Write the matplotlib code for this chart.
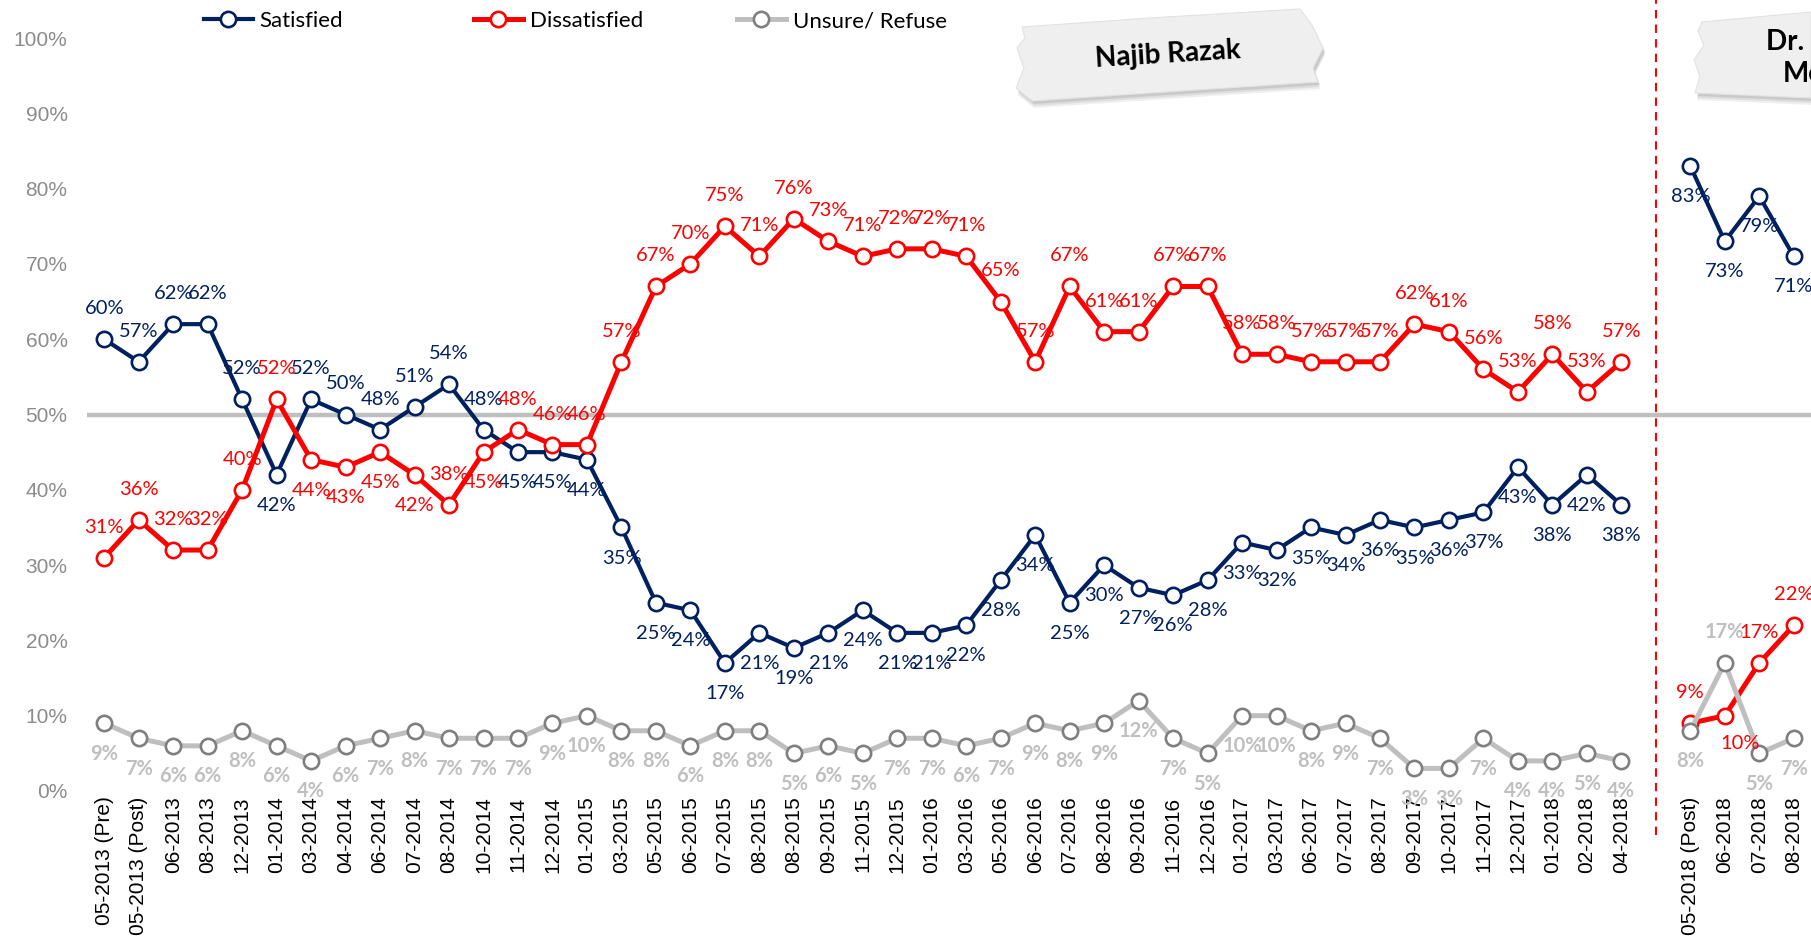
import numpy as np
import matplotlib.pyplot as plt
from matplotlib.patches import Polygon

# survey periods under Najib Razak, then after the May 2018 election
periods = ['05-2013 (Pre)', '05-2013 (Post)', '06-2013', '08-2013', '12-2013',
           '01-2014', '03-2014', '04-2014', '06-2014', '07-2014', '08-2014',
           '10-2014', '11-2014', '12-2014', '01-2015', '03-2015', '05-2015',
           '06-2015', '07-2015', '08-2015', '08-2015', '09-2015', '11-2015',
           '12-2015', '01-2016', '03-2016', '05-2016', '06-2016', '07-2016',
           '08-2016', '09-2016', '11-2016', '12-2016', '01-2017', '03-2017',
           '06-2017', '07-2017', '08-2017', '09-2017', '10-2017', '11-2017',
           '12-2017', '01-2018', '02-2018', '04-2018']
post_periods = ['05-2018 (Post)', '06-2018', '07-2018', '08-2018']

satisfied = [60, 57, 62, 62, 52, 42, 52, 50, 48, 51, 54, 48, 45, 45, 44, 35, 25,
             24, 17, 21, 19, 21, 24, 21, 21, 22, 28, 34, 25, 30, 27, 26, 28, 33,
             32, 35, 34, 36, 35, 36, 37, 43, 38, 42, 38]
dissatisfied = [31, 36, 32, 32, 40, 52, 44, 43, 45, 42, 38, 45, 48, 46, 46, 57,
                67, 70, 75, 71, 76, 73, 71, 72, 72, 71, 65, 57, 67, 61, 61, 67,
                67, 58, 58, 57, 57, 57, 62, 61, 56, 53, 58, 53, 57]
unsure = [9, 7, 6, 6, 8, 6, 4, 6, 7, 8, 7, 7, 7, 9, 10, 8, 8, 6, 8, 8, 5, 6, 5,
          7, 7, 6, 7, 9, 8, 9, 12, 7, 5, 10, 10, 8, 9, 7, 3, 3, 7, 4, 4, 5, 4]

satisfied_post = [83, 73, 79, 71]
dissatisfied_post = [9, 10, 17, 22]
unsure_post = [8, 17, 5, 7]

NAVY = '#002060'
RED = '#FF0000'
GREY = '#BFBFBF'

W, H = 1811, 944


def px(x, y):
    # pixel position (y from top) -> figure fraction
    return (x / W, 1 - y / H)


fig = plt.figure(figsize=(W / 100, H / 100), dpi=100)
ax = fig.add_axes([87 / W, 1 - 791 / H, (W - 87) / W, 753 / H])

x_najib = np.arange(len(periods))
x_post = np.arange(len(periods) + 1, len(periods) + 1 + len(post_periods))
x_split = len(periods)

series = [
    ('Satisfied', satisfied, satisfied_post, NAVY, NAVY, 3.0),
    ('Dissatisfied', dissatisfied, dissatisfied_post, RED, RED, 3.6),
    ('Unsure/ Refuse', unsure, unsure_post, GREY, '#7F7F7F', 3.6),
]

handles = []
for i, (name, vals, vals_post, col, edge, lw) in enumerate(series):
    style = dict(color=col, lw=lw, marker='o', ms=11, mfc='white', mec=edge,
                 mew=1.9, zorder=3 + i)
    h, = ax.plot(x_najib, np.array(vals) / 100, label=name, **style)
    ax.plot(x_post, np.array(vals_post) / 100, **style)
    handles.append(h)

# where Excel put each data label
sat_above = {0, 1, 2, 3, 4, 6, 7, 8, 9, 10, 11}
dis_below = {6, 7, 8, 9, 11}
lab_font = 'Lato'
OFF = 22


def label(x, v, dx, dy, col, bold=False):
    ax.annotate(f'{v}%', (x, v / 100), xytext=(dx, dy), textcoords='offset points',
                ha='center', va='center', color=col, fontsize=14.5,
                family=lab_font, fontweight='bold' if bold else 'normal', zorder=10)


for i, v in enumerate(satisfied):
    label(x_najib[i], v, 0, OFF if i in sat_above else -OFF, NAVY)
for i, v in enumerate(dissatisfied):
    label(x_najib[i], v, 0, -OFF if i in dis_below else OFF, RED)
for i, v in enumerate(unsure):
    label(x_najib[i], v, 0, -OFF, GREY, bold=True)

for i, v in enumerate(satisfied_post):
    label(x_post[i], v, 0, -OFF, NAVY)
for i, v in enumerate(dissatisfied_post):
    if i == 1:
        label(x_post[i], v, 11, -20, RED)
    else:
        label(x_post[i], v, 0, OFF, RED)
for i, v in enumerate(unsure_post):
    label(x_post[i], v, 0, OFF if i == 1 else -OFF, GREY, bold=True)

# 50% reference line and the change of government
ax.axhline(0.5, color=GREY, lw=3.2, zorder=1)
ax.axvline(x_split, ymin=-0.058, ymax=1.06, color=RED, lw=1.5,
           ls=(0, (4, 3)), clip_on=False, zorder=2)

ax.set_xlim(-0.5, x_post[-1] + 0.5)
ax.set_ylim(0, 1.0)
ax.set_yticks(np.arange(0, 1.01, 0.1))
ax.set_yticklabels([f'{int(round(t * 100))}%' for t in np.arange(0, 1.01, 0.1)],
                   family='Liberation Sans', fontsize=15, color='#8C8C8C')
ax.set_xticks(np.r_[x_najib, x_post])
ax.set_xticklabels(periods + post_periods, rotation=90, family='Liberation Sans',
                   fontsize=15, color='black')
ax.tick_params(axis='y', length=0, pad=14)
ax.tick_params(axis='x', length=0, pad=4)
for s in ax.spines.values():
    s.set_visible(False)

# one legend entry per slot, like the Excel legend spacing
for h, xpos in zip(handles, (204, 474, 737)):
    leg = fig.legend(handles=[h], loc='center left', bbox_to_anchor=px(xpos, 21),
                     frameon=False, borderpad=0, borderaxespad=0,
                     handlelength=2.2, handletextpad=0.3,
                     prop={'family': lab_font, 'size': 16})

# paper banners with the prime ministers' names
najib_shape = [(1022, 27), (1150, 18), (1300, 9), (1312, 25), (1323, 48),
               (1313, 68), (1318, 82), (1150, 93), (1032, 101), (1016, 88),
               (1024, 68), (1017, 48), (1025, 38)]
mahathir_shape = [(1702, 22), (1811, 12), (1811, 98), (1695, 93), (1700, 76),
                  (1694, 60), (1704, 45), (1698, 31)]

for shape in (najib_shape, mahathir_shape):
    for k, a in ((7, 0.15), (5, 0.2), (3, 0.3)):
        fig.patches.append(Polygon([px(x + 2, y + k) for x, y in shape],
                                   closed=True, transform=fig.transFigure,
                                   facecolor='#9a9a9a', edgecolor='none', alpha=a))
    fig.patches.append(Polygon([px(x, y) for x, y in shape], closed=True,
                               transform=fig.transFigure, facecolor='#EFEFEF',
                               edgecolor='#E2E2E2', lw=0.8))

fig.text(*px(1168, 55), 'Najib Razak', ha='center', va='center', rotation=3.5,
         fontsize=20, fontweight='bold', family=lab_font, color='black')
fig.text(*px(1766, 58), 'Dr. Mahathir\nMohamad', ha='left', va='center',
         multialignment='center', linespacing=1.3, fontsize=20,
         fontweight='bold', family=lab_font, color='black')

fig.savefig('out.png', dpi=100)
